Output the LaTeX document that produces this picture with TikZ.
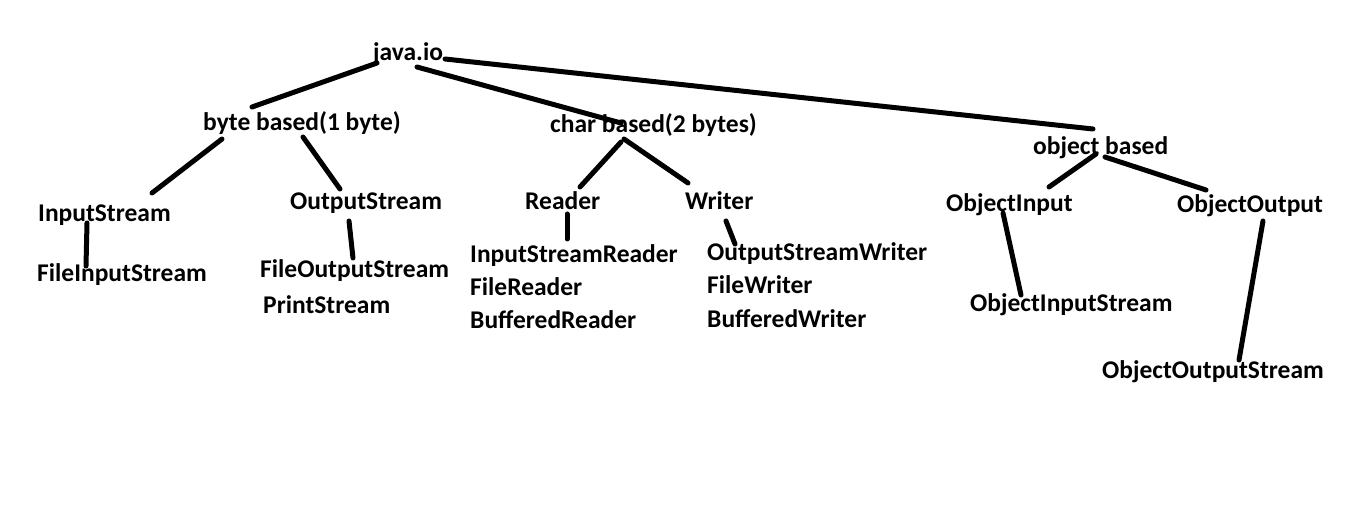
\documentclass[tikz,border=0pt]{standalone}
\usepackage{fontspec}
\setmainfont{Carlito}
\usepackage{tikz}
\usetikzlibrary{positioning}

\begin{document}
\begin{tikzpicture}[
		x=1pt, y=-1pt,
		t/.style = {anchor=base west, inner sep=0, font=\fontsize{25.5}{30}\selectfont\bfseries},
		r/.style = {line width=5pt, line cap=round}
		]
		\useasboundingbox[fill=white] (0,0) rectangle (1346,529);

		%Nodes
		\node[t]	(java)	at	(373, 61)	{java.io};
		\node[t]	(byte)	at	(203, 131)	{byte based(1 byte)};
		\node[t]	(char)	at	(550, 133)	{char based(2 bytes)};
		\node[t]	(obj)	at	(1033, 155)	{object based};

		\node[t]	(is)	at	(38, 222)	{InputStream};
		\node[t]	(os)	at	(290, 210)	{OutputStream};
		\node[t]	(fis)	at	(37, 282)	{FileInputStream};
		\node[t]	(fos)	at	(260, 278)	{FileOutputStream};
		\node[t]	(ps)	at	(263, 313)	{PrintStream};

		\node[t]	(rd)	at	(525, 210)	{Reader};
		\node[t]	(wr)	at	(685, 210)	{Writer};
		\node[t]	(isr)	at	(470, 262)	{InputStreamReader};
		\node[t]	(fr)	at	(470, 295)	{FileReader};
		\node[t]	(br)	at	(470, 328)	{BufferedReader};
		\node[t]	(osw)	at	(707, 261)	{OutputStreamWriter};
		\node[t]	(fw)	at	(707, 294)	{FileWriter};
		\node[t]	(bw)	at	(707, 327)	{BufferedWriter};

		\node[t]	(oi)	at	(946, 212)	{ObjectInput};
		\node[t]	(oo)	at	(1177, 213)	{ObjectOutput};
		\node[t]	(ois)	at	(970, 311)	{ObjectInputStream};
		\node[t]	(oos)	at	(1102, 378)	{ObjectOutputStream};

		%Lines
		\draw[r]	([shift={(4,2)}]java.base west)	--	([shift={(49,-24)}]byte.base west);
		\draw[r]	([shift={(44,6)}]java.base west)	--	([shift={(71,-10)}]char.base west);
		\draw[r]	([shift={(72,-2)}]java.base west)	--	([shift={(60,-26)}]obj.base west);

		\draw[r]	([shift={(19,8)}]byte.base west)	--	([shift={(114,-29)}]is.base west);
		\draw[r]	([shift={(100,6)}]byte.base west)	--	([shift={(50,-21)}]os.base west);
		\draw[r]	([shift={(49,1)}]is.base west)	--	([shift={(49,-16)}]fis.base west);
		\draw[r]	([shift={(59,11)}]os.base west)	--	([shift={(93,-20)}]fos.base west);

		\draw[r]	([shift={(71,9)}]char.base west)	--	([shift={(55,-23)}]rd.base west);
		\draw[r]	([shift={(74,6)}]char.base west)	--	([shift={(3,-27)}]wr.base west);
		\draw[r]	([shift={(42,4)}]rd.base west)	--	([shift={(97,-23)}]isr.base west);
		\draw[r]	([shift={(41,11)}]wr.base west)	--	([shift={(28,-17)}]osw.base west);

		\draw[r]	([shift={(63,-1)}]obj.base west)	--	([shift={(103,-25)}]oi.base west);
		\draw[r]	([shift={(72,2)}]obj.base west)	--	([shift={(29,-23)}]oo.base west);
		\draw[r]	([shift={(57,1)}]oi.base west)	--	([shift={(51,-16)}]ois.base west);
		\draw[r]	([shift={(86,8)}]oo.base west)	--	([shift={(137,-18)}]oos.base west);
	\end{tikzpicture}
\end{document}
